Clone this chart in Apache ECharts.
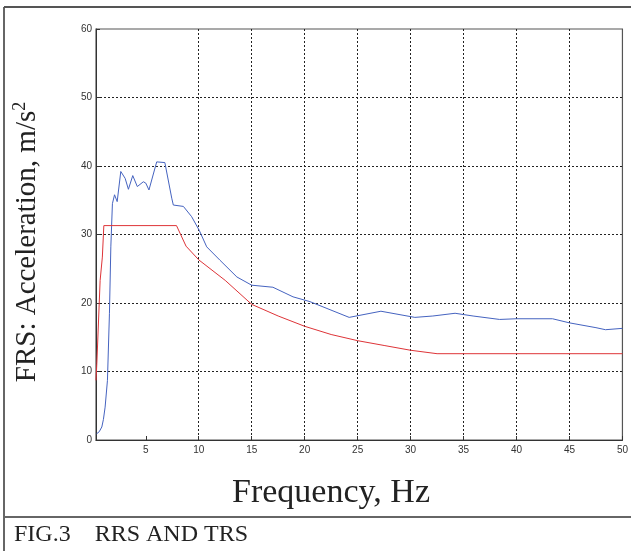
<!DOCTYPE html>
<html>
<head>
<meta charset="utf-8">
<script src="https://cdn.jsdelivr.net/npm/echarts@6/dist/echarts.min.js"></script>
<style>
html,body{margin:0;padding:0;background:#fff;}
#chart{width:631px;height:551px;}
</style>
</head>
<body>
<div id="chart"></div>
<script>
// ---- data ----
var xTicks = [5, 10, 15, 20, 25, 30, 35, 40, 45, 50];
var trsFreq = [0.35,0.6,0.85,1.0,1.16,1.38,1.57,1.7,1.85,2.05,2.3,2.64,3.05,3.36,3.77,4.2,4.77,5.0,5.3,6.03,6.8,7.45,7.6,8.55,9.33,10.05,10.75,12,13.6,15,17,18.9,20.5,24.2,27.2,30.4,32.1,34.2,35.9,38.4,40,43.4,45,47.5,48.4,50];
var trsAcc  = [0.9,1.2,1.9,3.0,4.8,8.7,18.5,28.2,34.5,35.8,34.8,39.2,38.2,36.6,38.6,37.0,37.7,37.5,36.5,40.6,40.5,35.3,34.3,34.1,32.6,30.6,28.2,26.25,23.8,22.6,22.3,20.9,20.2,17.9,18.8,17.9,18.1,18.5,18.1,17.6,17.7,17.7,17.1,16.4,16.1,16.3];
var rrsFreq = [0.3,0.38,0.69,0.9,1.04,7.9,8.8,10,12.5,15,17.5,20,22.5,25,27.5,30,32.5,50];
var rrsAcc  = [8.7,11.2,23.3,26.7,31.3,31.3,28.3,26.3,23.3,19.8,18.1,16.6,15.4,14.5,13.8,13.1,12.6,12.6];
var yTitle = 'FRS: Acceleration, m/s';
var xTitle = 'Frequency, Hz';
var caption = 'FIG.3    RRS AND TRS';

function pairs(xs, ys){ var o=[]; for(var i=0;i<xs.length;i++) o.push([xs[i], ys[i]]); return o; }

var chart = echarts.init(document.getElementById('chart'), null, {renderer:'canvas'});
var gridDash = {color:'#222', width:1, type:[2,2]};
chart.setOption({
  animation:false,
  backgroundColor:'#fff',
  grid:{left:96, right:8, top:29, bottom:111, show:true, borderColor:'#555', borderWidth:1.2, backgroundColor:'transparent'},
  xAxis:{
    type:'value', min:0.3, max:50,
    axisLine:{show:true, lineStyle:{color:'#333', width:1}},
    axisTick:{show:true, inside:true, length:4, customValues:xTicks, lineStyle:{color:'#333'}},
    axisLabel:{customValues:xTicks, color:'#333', fontFamily:'Liberation Sans', fontSize:10, margin:5},
    splitLine:{show:true, lineStyle:gridDash, showMinLine:false, showMaxLine:false}
  },
  yAxis:{
    type:'value', min:0, max:60, interval:10,
    axisLine:{show:true, lineStyle:{color:'#333', width:1}},
    axisTick:{show:true, inside:true, length:4, lineStyle:{color:'#333'}},
    axisLabel:{color:'#333', fontFamily:'Liberation Sans', fontSize:10, margin:4},
    splitLine:{show:true, lineStyle:gridDash, showMinLine:false, showMaxLine:false}
  },
  series:[
    {type:'line', name:'TRS', data:pairs(trsFreq, trsAcc), showSymbol:false, lineStyle:{color:'#4563c0', width:1}, itemStyle:{color:'#4563c0'}},
    {type:'line', name:'RRS', data:pairs(rrsFreq, rrsAcc), showSymbol:false, lineStyle:{color:'#de3438', width:1}, itemStyle:{color:'#de3438'}}
  ],
  graphic:[
    {type:'line', shape:{x1:4, y1:7, x2:4, y2:551}, style:{stroke:'#666', lineWidth:2}},
    {type:'line', shape:{x1:4, y1:7, x2:631, y2:7}, style:{stroke:'#555', lineWidth:2}},
    {type:'line', shape:{x1:4, y1:517, x2:631, y2:517}, style:{stroke:'#666', lineWidth:2}},
    {type:'text', x:27, y:242, rotation:Math.PI/2,
      style:{text:'{a|'+yTitle+'}{b|2}', align:'center', verticalAlign:'middle',
        rich:{a:{fontFamily:'Liberation Serif', fontSize:29, fill:'#222', color:'#222'},
              b:{fontFamily:'Liberation Serif', fontSize:18, fill:'#222', color:'#222', verticalAlign:'top', padding:[0,0,13,0]}}}},
    {type:'text', x:331, y:493,
      style:{text:xTitle, align:'center', verticalAlign:'middle', fontFamily:'Liberation Serif', fontSize:34, fill:'#222'}},
    {type:'text', x:14, y:535,
      style:{text:caption, align:'left', verticalAlign:'middle', fontFamily:'Liberation Serif', fontSize:24, fill:'#222'}}
  ]
});
</script>
</body>
</html>
